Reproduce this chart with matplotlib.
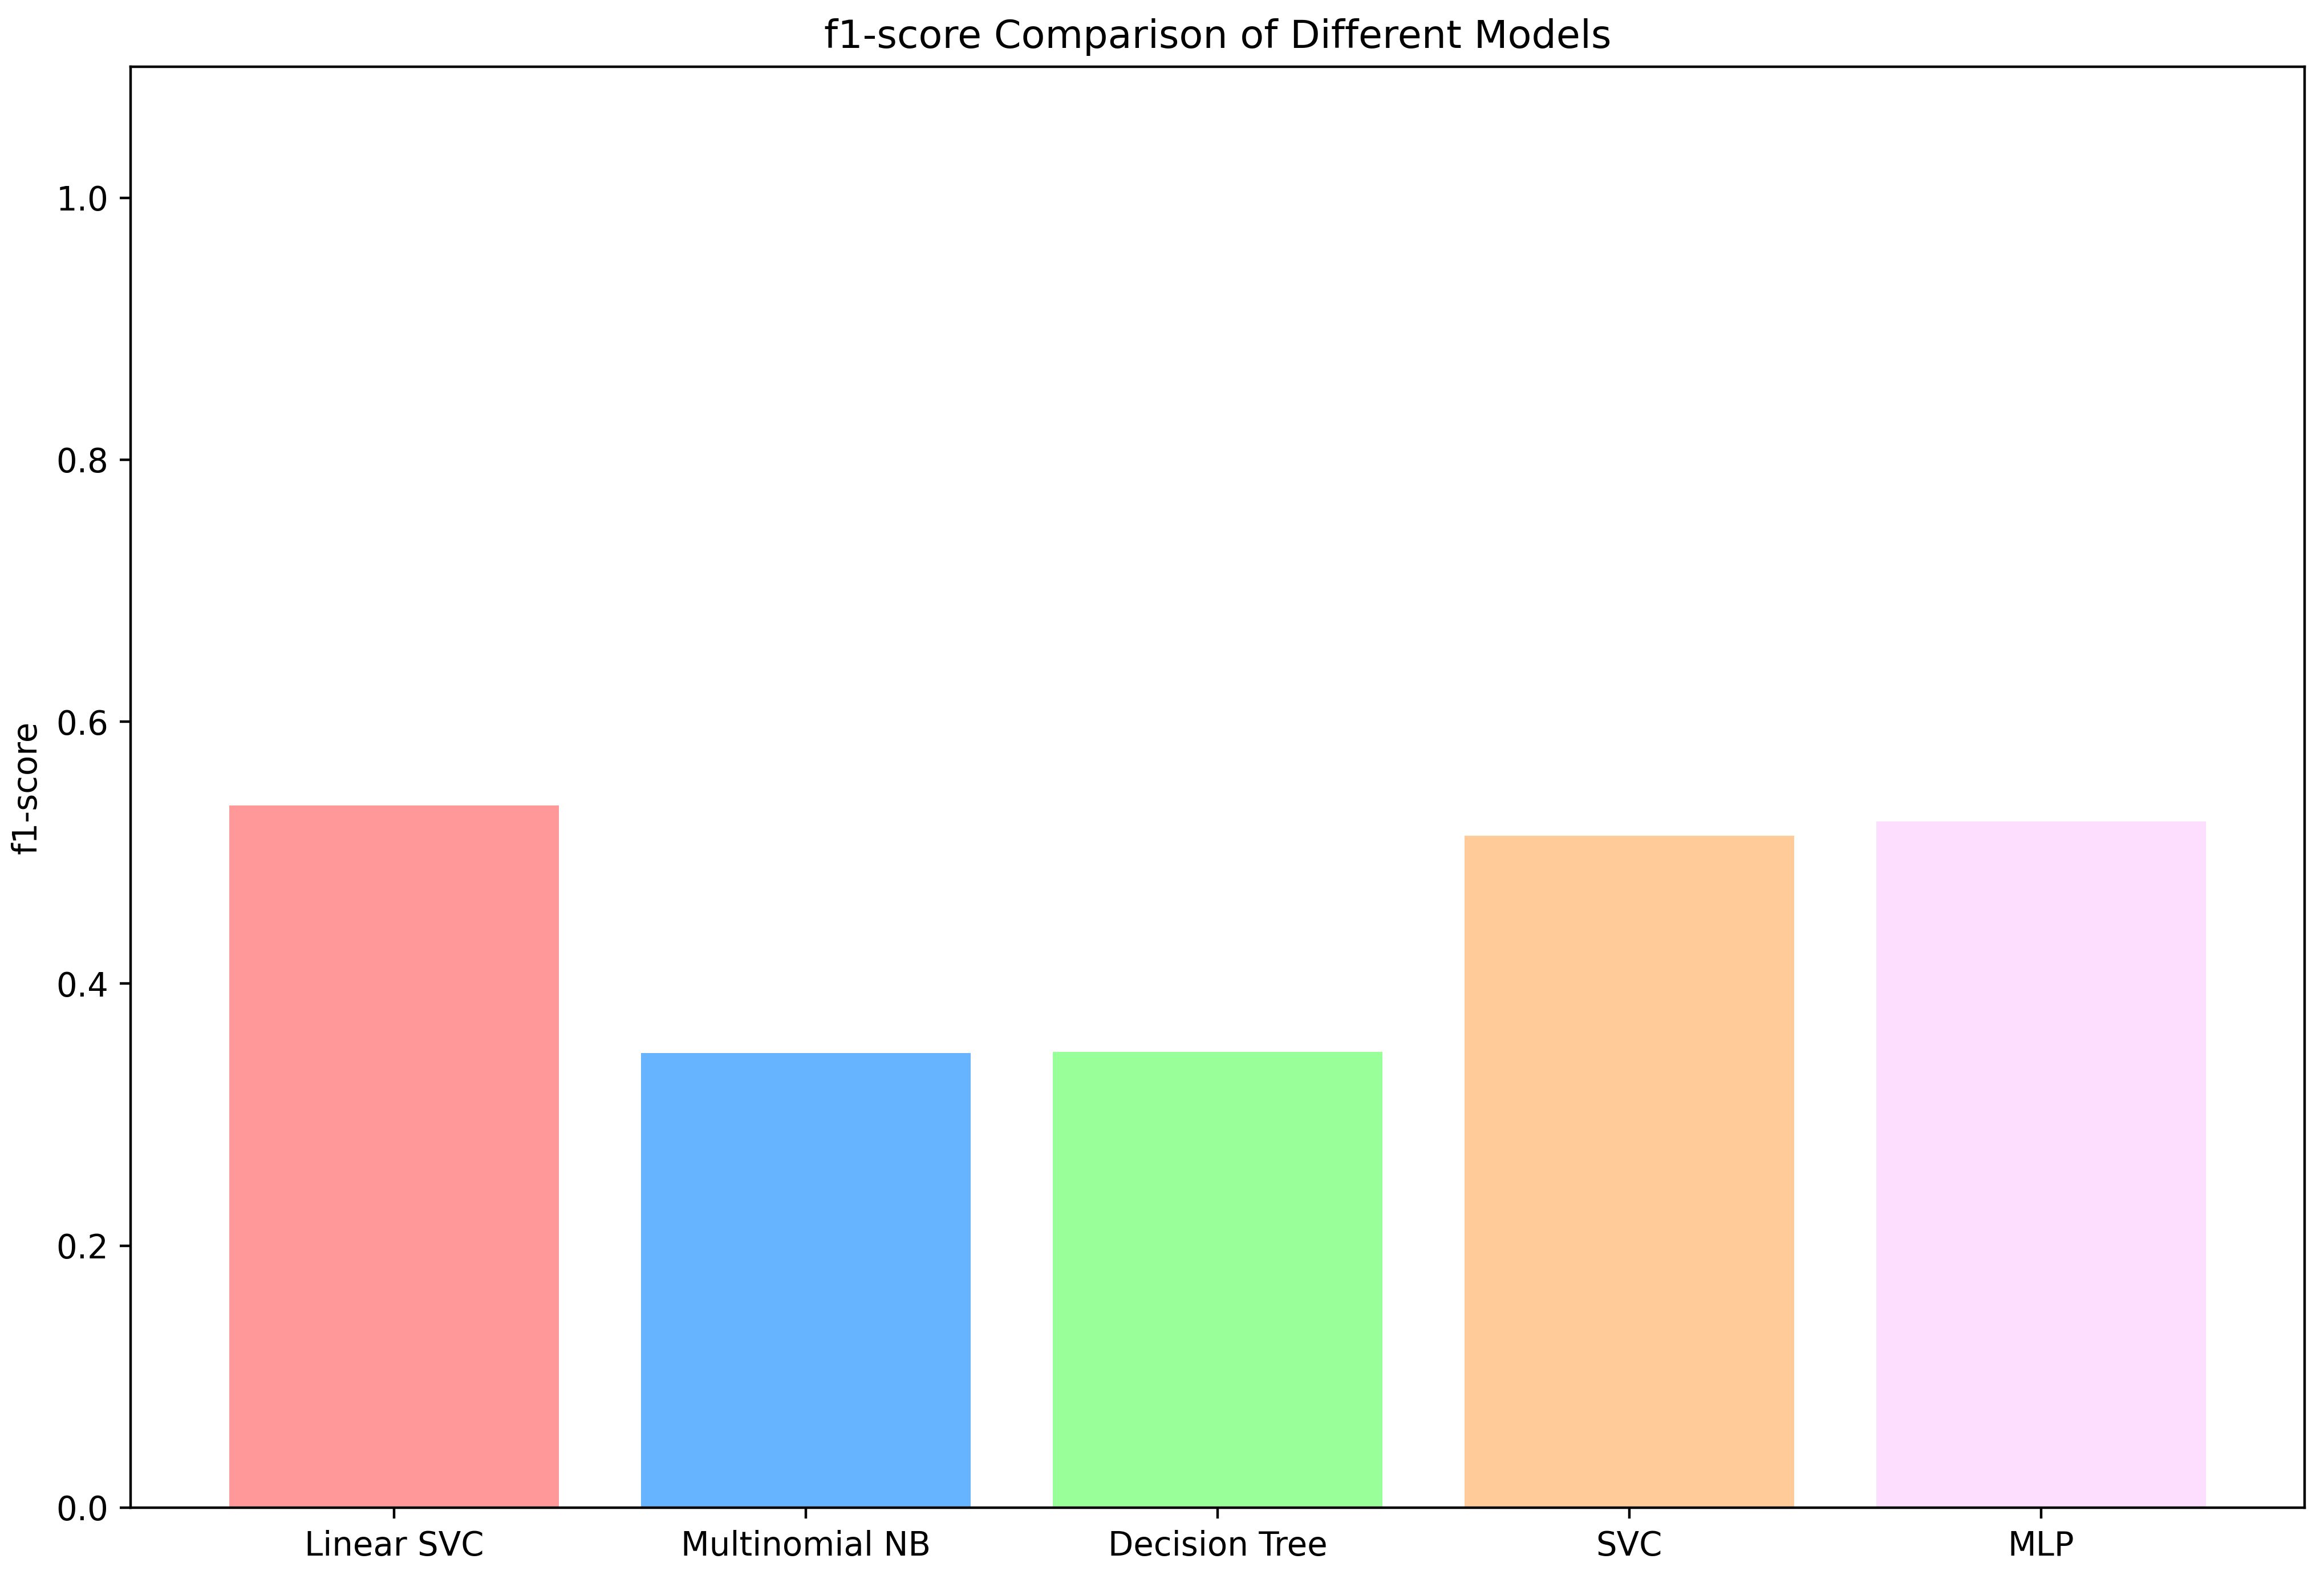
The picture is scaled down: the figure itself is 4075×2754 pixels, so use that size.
import matplotlib
matplotlib.use('Agg')
import matplotlib.pyplot as plt

models = ['Linear SVC', 'Multinomial NB', 'Decision Tree', 'SVC', 'MLP']
f1_scores = [0.536, 0.347, 0.348, 0.513, 0.524]
colors = ['#ff9999', '#66b3ff', '#99ff99', '#ffcc99', '#fedefe']

plt.rcParams['font.size'] = 10.4

fig = plt.figure(figsize=(4075 / 400, 2754 / 400))
ax = fig.add_subplot(111)
fig.subplots_adjust(left=229 / 4075, right=4041 / 4075, bottom=1 - 2643 / 2754, top=1 - 117 / 2754)

ax.bar(models, f1_scores, color=colors)
ax.set_ylim(0, 1.1)
ax.set_ylabel('f1-score')
ax.set_title('f1-score Comparison of Different Models', fontsize=12.3)

fig.savefig('out.png', dpi=400)
